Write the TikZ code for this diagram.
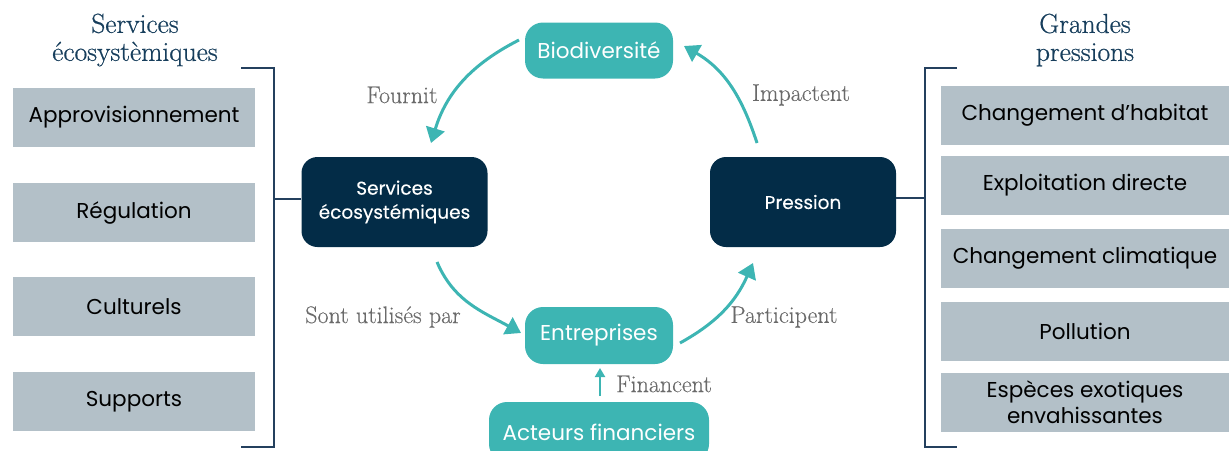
\documentclass[tikz,border=0pt]{standalone}
\usepackage{fontspec}
\newfontfamily\pop{Poppins}
\newfontfamily\popm{Poppins}[FakeBold=0.25]
\newfontfamily\serift{Latin Modern Roman}[FakeBold=0.6]
\newfontfamily\serifl{Latin Modern Roman}[FakeBold=0.3]
\usetikzlibrary{arrows.meta}
\definecolor{tealc}{HTML}{3DB5B3}
\definecolor{navy}{HTML}{032C47}
\definecolor{grayb}{HTML}{B3C0C8}
\definecolor{brk}{HTML}{24405E}
\definecolor{titlec}{HTML}{173E5C}
\definecolor{labc}{HTML}{6A6A6A}
\tikzset{
  graybox/.style={fill=grayb, minimum height=59pt, inner sep=0pt, align=center, text=black,
    font=\pop\fontsize{21.5}{25}\selectfont},
  lbox/.style={graybox, minimum width=242pt},
  rbox/.style={graybox, minimum width=288pt},
  darkbox/.style={fill=navy, rounded corners=16pt, minimum width=186pt, minimum height=90pt,
    inner sep=0pt, align=center, text=white, font=\popm\fontsize{18.5}{24}\selectfont},
  tealbox/.style={fill=tealc, rounded corners=18pt, minimum height=56pt, inner sep=0pt,
    text=white, font=\pop\fontsize{21.5}{25}\selectfont},
  titletext/.style={text=titlec, align=center, font=\serift\fontsize{27.5}{30}\selectfont},
  labtext/.style={text=labc, font=\serifl\fontsize{24}{28}\selectfont},
  bigarrow/.style={draw=tealc, line width=3pt, -{Triangle[length=15pt,width=19pt]}},
  smallarrow/.style={draw=tealc, line width=2pt, -{Triangle[length=9pt,width=10pt]}},
  bracket/.style={draw=brk, line width=1.5pt},
}
\begin{document}
\begin{tikzpicture}[x=1pt,y=-1pt]
\useasboundingbox (0,0) rectangle (1231,450);
\clip (0,0) rectangle (1231,450);
% titles
\node[titletext] (tl) at (135,40) {Services\\[-2pt]écosystèmiques};
\node[titletext] (tr) at (1085,40) {Grandes\\[-2pt]pressions};
% left boxes
\node[lbox] (l1) at (134,117.5) {Approvisionnement};
\node[lbox] (l2) at (134,212.5) {Régulation};
\node[lbox] (l3) at (134,306.5) {Culturels};
\node[lbox] (l4) at (134,401.5) {Supports};
% right boxes
\node[rbox] (r1) at (1085,115.5) {Changement d’habitat};
\node[rbox] (r2) at (1085,185) {Exploitation directe};
\node[rbox] (r3) at (1085,258) {Changement climatique};
\node[rbox] (r4) at (1085,331.5) {Pollution};
\node[rbox, font=\pop\fontsize{21.5}{26}\selectfont] (r5) at (1085,402.5) {Espèces exotiques\\envahissantes};
% central nodes
\node[darkbox] (se) at (394.5,202) {Services\\écosystémiques};
\node[darkbox] (pr) at (803,202) {Pression};
\node[tealbox, minimum width=148pt] (bio) at (599,50.5) {Biodiversité};
\node[tealbox, minimum width=148pt, minimum height=57pt] (ent) at (599,335.5) {Entreprises};
\node[tealbox, minimum width=220pt, minimum height=60pt] (act) at (599,432) {Acteurs financiers};
% brackets
\coordinate (lbt) at (274,68);
\coordinate (lbb) at (274,447);
\coordinate (lbm) at (274,199);
\draw[bracket] (241,68) -- (lbt) -- (lbb) -- (241,447);
\draw[bracket] (lbm) -- (se.west |- lbm);
\coordinate (rbt) at (925,68);
\coordinate (rbb) at (925,447);
\coordinate (rbm) at (925,198);
\draw[bracket] (957,68) -- (rbt) -- (rbb) -- (957,447);
\draw[bracket] (rbm) -- (pr.east |- rbm);
% cycle arrows
\coordinate (f1) at (519,40);
\coordinate (f2) at (431,143);
\coordinate (i1) at (757,143);
\coordinate (i2) at (684,46);
\coordinate (s1) at (437,262);
\coordinate (s2) at (521,333);
\coordinate (p1) at (680,343);
\coordinate (p2) at (753,263);
\draw[bigarrow] (f1) to[out=207,in=73] (f2);
\draw[bigarrow] (i1) to[out=108,in=330] (i2);
\draw[bigarrow] (s1) to[out=293,in=151] (s2);
\draw[bigarrow] (p1) to[out=29,in=246] (p2);
\coordinate (fa) at (600,396);
\coordinate (fb) at (600,368);
\draw[smallarrow] (fa) -- (fb);
% labels
\node[labtext] (lf) at (402,95) {Fournit};
\node[labtext] (li) at (801,95) {Impactent};
\node[labtext] (ls) at (383,317) {Sont utilisés par};
\node[labtext] (lp) at (784,317) {Participent};
\node[labtext] (lfi) at (664,384) {Financent};
\end{tikzpicture}
\end{document}
